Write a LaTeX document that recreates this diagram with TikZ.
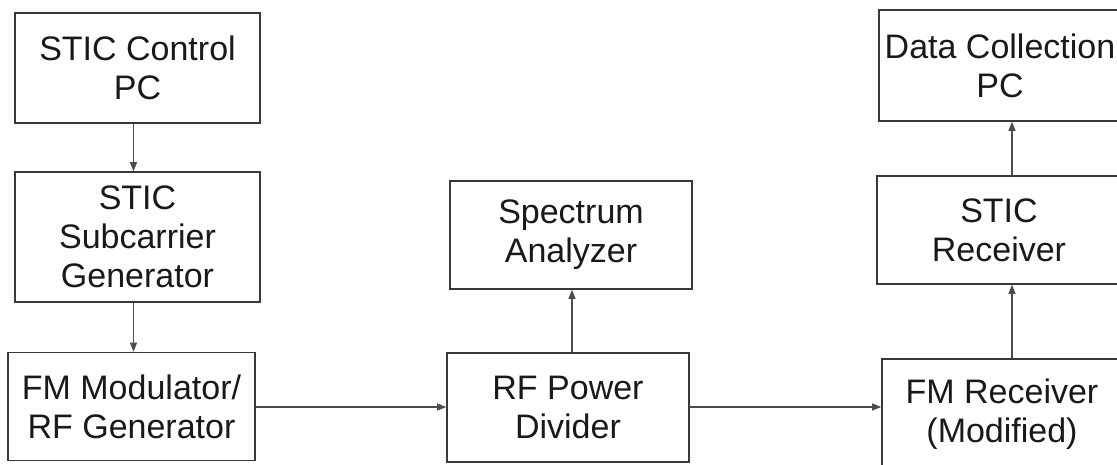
\documentclass[tikz,border=0pt]{standalone}
\usepackage{fontspec}
\setmainfont{Liberation Sans}
\usetikzlibrary{arrows.meta}
\begin{document}
\begin{tikzpicture}[x=1pt,y=1pt,
  blk/.style={draw=black!78, line width=1.6pt, align=center,
    font=\fontsize{34}{39}\selectfont, inner sep=0pt, text=black!90},
  conn/.style={draw=black!70, line width=1.2pt, -{Triangle[length=9pt,width=7pt]}}]
\useasboundingbox (0,0) rectangle (1117,-464);
\node[blk, minimum width=245, minimum height=110] (b1) at (137.5,-68) {STIC Control\\PC};
\node[blk, minimum width=245, minimum height=130] (b2) at (137.5,-237) {STIC\\Subcarrier\\Generator};
\node[blk, minimum width=247, minimum height=108] (b3) at (131.5,-406.5) {FM Modulator/\\RF Generator};
\node[blk, minimum width=242, minimum height=108] (b4) at (571,-235) {Spectrum\\Analyzer};
\node[blk, minimum width=242, minimum height=109] (b5) at (568,-407.5) {RF Power\\Divider};
\node[blk, minimum width=242, minimum height=111] (b6) at (1000,-65.5) {Data Collection\\PC};
\node[blk, minimum width=244, minimum height=108] (b7) at (999,-230) {STIC\\Receiver};
\node[blk, minimum width=240, minimum height=110] (b8) at (1002,-414) {FM Receiver\\(Modified)};
\coordinate (h1) at (0,-407);
\draw[conn] ([xshift=-4pt]b1.south) -- ([xshift=-4pt]b2.north);
\draw[conn] ([xshift=-4pt]b2.south) -- ([xshift=2pt]b3.north);
\draw[conn] (b3.east |- h1) -- (b5.west |- h1);
\draw[conn] ([xshift=4pt]b5.north) -- ([xshift=1pt]b4.south);
\draw[conn] (b5.east |- h1) -- (b8.west |- h1);
\draw[conn] ([xshift=10pt]b8.north) -- ([xshift=13pt]b7.south);
\draw[conn] ([xshift=13pt]b7.north) -- ([xshift=12pt]b6.south);
\end{tikzpicture}
\end{document}
